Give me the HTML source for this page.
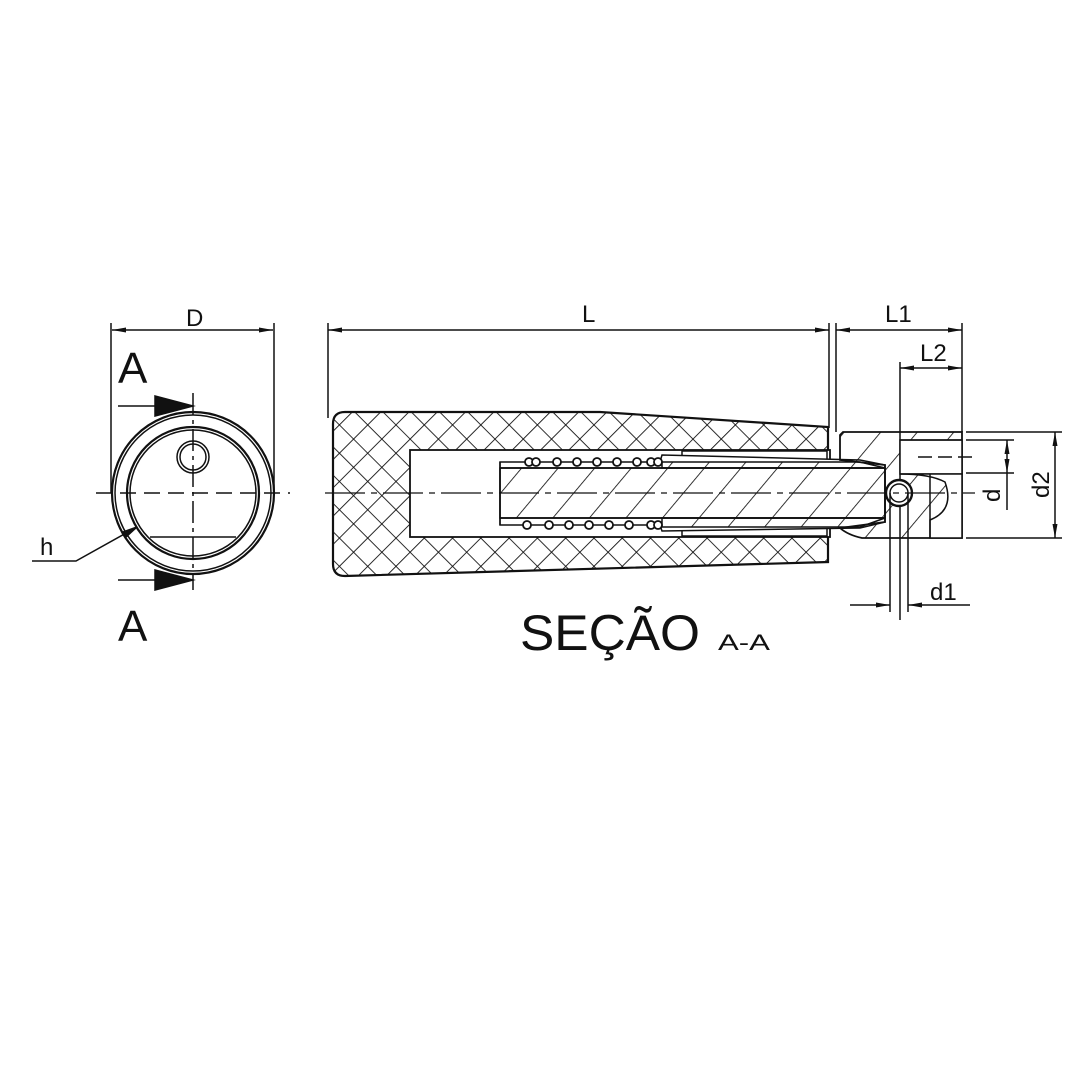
<!DOCTYPE html>
<html><head><meta charset="utf-8"><style>
html,body{margin:0;padding:0;background:#fff;}
svg{display:block;}
text{font-family:"Liberation Sans",sans-serif;fill:#111;}
</style></head><body>
<svg width="1080" height="1080" viewBox="0 0 1080 1080" xmlns="http://www.w3.org/2000/svg">
<defs>
<pattern id="xh" width="20" height="20" patternUnits="userSpaceOnUse" patternTransform="rotate(45)">
<line x1="0" y1="0" x2="0" y2="20" stroke="#111" stroke-width="1.8"/>
<line x1="0" y1="0" x2="20" y2="0" stroke="#111" stroke-width="1.8"/>
</pattern>
<pattern id="dh" width="28" height="28" patternUnits="userSpaceOnUse" patternTransform="rotate(40)">
<line x1="0" y1="0" x2="0" y2="28" stroke="#111" stroke-width="1.7"/>
</pattern>
<marker id="ar" markerWidth="14" markerHeight="6" refX="14" refY="3" orient="auto" markerUnits="userSpaceOnUse">
<path d="M0,0.5 L14,3 L0,5.5z" fill="#111"/>
</marker>
</defs>
<g stroke="#111" fill="none" stroke-width="1.5">
<!-- LEFT VIEW -->
<line x1="111" y1="323" x2="111" y2="493"/>
<line x1="274" y1="323" x2="274" y2="493"/>
<line x1="190" y1="330" x2="112" y2="330" marker-end="url(#ar)"/>
<line x1="190" y1="330" x2="273" y2="330" marker-end="url(#ar)"/>
<circle cx="193" cy="493" r="81" stroke-width="2.2"/>
<circle cx="193" cy="493" r="78"/>
<circle cx="193" cy="493" r="66" stroke-width="2.2"/>
<circle cx="193" cy="493" r="63"/>
<circle cx="193" cy="457" r="16"/>
<circle cx="193" cy="457" r="13"/>
<line x1="150" y1="537" x2="236" y2="537"/>
<line x1="96" y1="493" x2="290" y2="493" stroke-dasharray="16,8"/>
<line x1="193" y1="393" x2="193" y2="590" stroke-dasharray="22,5,4,5"/>
<line x1="118" y1="406" x2="190" y2="406"/>
<path d="M155,396 L193,406 L155,416z" fill="#111"/>
<line x1="118" y1="580" x2="190" y2="580"/>
<path d="M155,570 L193,580 L155,590z" fill="#111"/>
<polyline points="32,561 76,561 137,527"/>
<path d="M137,527 L123,532 L126,537z" fill="#111"/>

<!-- L dimension -->
<line x1="328" y1="323" x2="328" y2="418"/>
<line x1="829" y1="323" x2="829" y2="428"/>
<line x1="836" y1="323" x2="836" y2="432"/>
<line x1="580" y1="330" x2="328" y2="330" marker-end="url(#ar)"/>
<line x1="580" y1="330" x2="829" y2="330" marker-end="url(#ar)"/>
<line x1="900" y1="330" x2="836" y2="330" marker-end="url(#ar)"/>
<line x1="900" y1="330" x2="962" y2="330" marker-end="url(#ar)"/>
<line x1="962" y1="323" x2="962" y2="432"/>
<line x1="900" y1="362" x2="900" y2="620"/>
<line x1="930" y1="368" x2="900" y2="368" marker-end="url(#ar)"/>
<line x1="930" y1="368" x2="962" y2="368" marker-end="url(#ar)"/>

<!-- handle body -->
<path d="M345,412 L600,412 L828,427 L828,562 L345,576 Q333,576 333,564 L333,424 Q333,412 345,412z" fill="url(#xh)" stroke-width="2.2"/>
<rect x="410" y="450" width="420" height="87" fill="#fff" stroke-width="1.8"/>
<rect x="682" y="451" width="145" height="10" fill="#fff"/>
<rect x="682" y="526" width="145" height="10" fill="#fff"/>
<!-- rod -->
<path d="M500,462 L660,462 L662,455 L860,460 L885,465 L885,522 L860,528 L662,531 L660,525 L500,525z" fill="#fff"/>
<rect x="500" y="468" width="385" height="50" fill="url(#dh)"/>
<path d="M662,462 L860,462 L885,468 L662,468z" fill="url(#dh)"/>
<path d="M662,518 L885,518 L860,527 L662,527z" fill="url(#dh)"/>
<line x1="500" y1="468" x2="885" y2="468" stroke-width="1.8"/>
<line x1="500" y1="518" x2="885" y2="518" stroke-width="1.8"/>
<line x1="500" y1="462" x2="500" y2="525"/>
<g stroke-width="1.8" fill="#fff">
<circle cx="529" cy="462" r="4"/><circle cx="536" cy="462" r="4"/><circle cx="557" cy="462" r="4"/><circle cx="577" cy="462" r="4"/><circle cx="597" cy="462" r="4"/><circle cx="617" cy="462" r="4"/><circle cx="637" cy="462" r="4"/><circle cx="651" cy="462" r="4"/><circle cx="658" cy="462" r="4"/>
<circle cx="527" cy="525" r="4"/><circle cx="549" cy="525" r="4"/><circle cx="569" cy="525" r="4"/><circle cx="589" cy="525" r="4"/><circle cx="609" cy="525" r="4"/><circle cx="629" cy="525" r="4"/><circle cx="651" cy="525" r="4"/><circle cx="658" cy="525" r="4"/>
</g>
<!-- right piece -->
<path d="M843,432 L962,432 L962,538 L862,538 Q848,535 840,528 L885,522 L885,465 L840,460 L840,435z" fill="url(#dh)" stroke-width="1.8"/>
<rect x="900" y="440" width="62" height="34" fill="#fff"/>
<path d="M900,474 L962,474 L962,538 L930,538 L930,520 Q955,510 945,482 Q930,474 900,474z" fill="#fff"/>
<line x1="930" y1="474" x2="930" y2="538"/>
<line x1="900" y1="440" x2="962" y2="440"/>
<line x1="918" y1="457" x2="972" y2="457" stroke-dasharray="14,6"/>
<circle cx="899" cy="493" r="13" fill="#fff" stroke-width="2.4"/>
<circle cx="899" cy="493" r="9"/>
<line x1="890" y1="493" x2="890" y2="612"/>
<line x1="908" y1="493" x2="908" y2="612"/>
<line x1="850" y1="605" x2="890" y2="605" marker-end="url(#ar)"/>
<line x1="970" y1="605" x2="908" y2="605" marker-end="url(#ar)"/>
<line x1="966" y1="432" x2="1062" y2="432"/>
<line x1="966" y1="538" x2="1062" y2="538"/>
<line x1="966" y1="440" x2="1014" y2="440"/>
<line x1="966" y1="473" x2="1014" y2="473"/>
<line x1="1007" y1="460" x2="1007" y2="440" marker-end="url(#ar)"/>
<line x1="1007" y1="460" x2="1007" y2="473" marker-end="url(#ar)"/>
<line x1="1007" y1="473" x2="1007" y2="510"/>
<line x1="1055" y1="485" x2="1055" y2="432" marker-end="url(#ar)"/>
<line x1="1055" y1="485" x2="1055" y2="538" marker-end="url(#ar)"/>
<line x1="325" y1="493" x2="975" y2="493" stroke-dasharray="40,6,6,6" stroke-width="1.3"/>
</g>
<g stroke="none">
<text x="186" y="326" font-size="24">D</text>
<text x="118" y="383" font-size="44">A</text>
<text x="118" y="641" font-size="44">A</text>
<text x="40" y="555" font-size="24">h</text>
<text x="582" y="322" font-size="24">L</text>
<text x="885" y="322" font-size="24">L1</text>
<text x="920" y="361" font-size="24">L2</text>
<text x="930" y="600" font-size="24">d1</text>
<text x="0" y="0" font-size="24" transform="translate(1000,502) rotate(-90)">d</text>
<text x="0" y="0" font-size="24" transform="translate(1049,498) rotate(-90)">d2</text>
<text x="520" y="650" font-size="50" textLength="180" lengthAdjust="spacingAndGlyphs">SEÇÃO</text>
<text x="718" y="650" font-size="22" textLength="52" lengthAdjust="spacingAndGlyphs">A-A</text>
</g>
</svg>
</body></html>
